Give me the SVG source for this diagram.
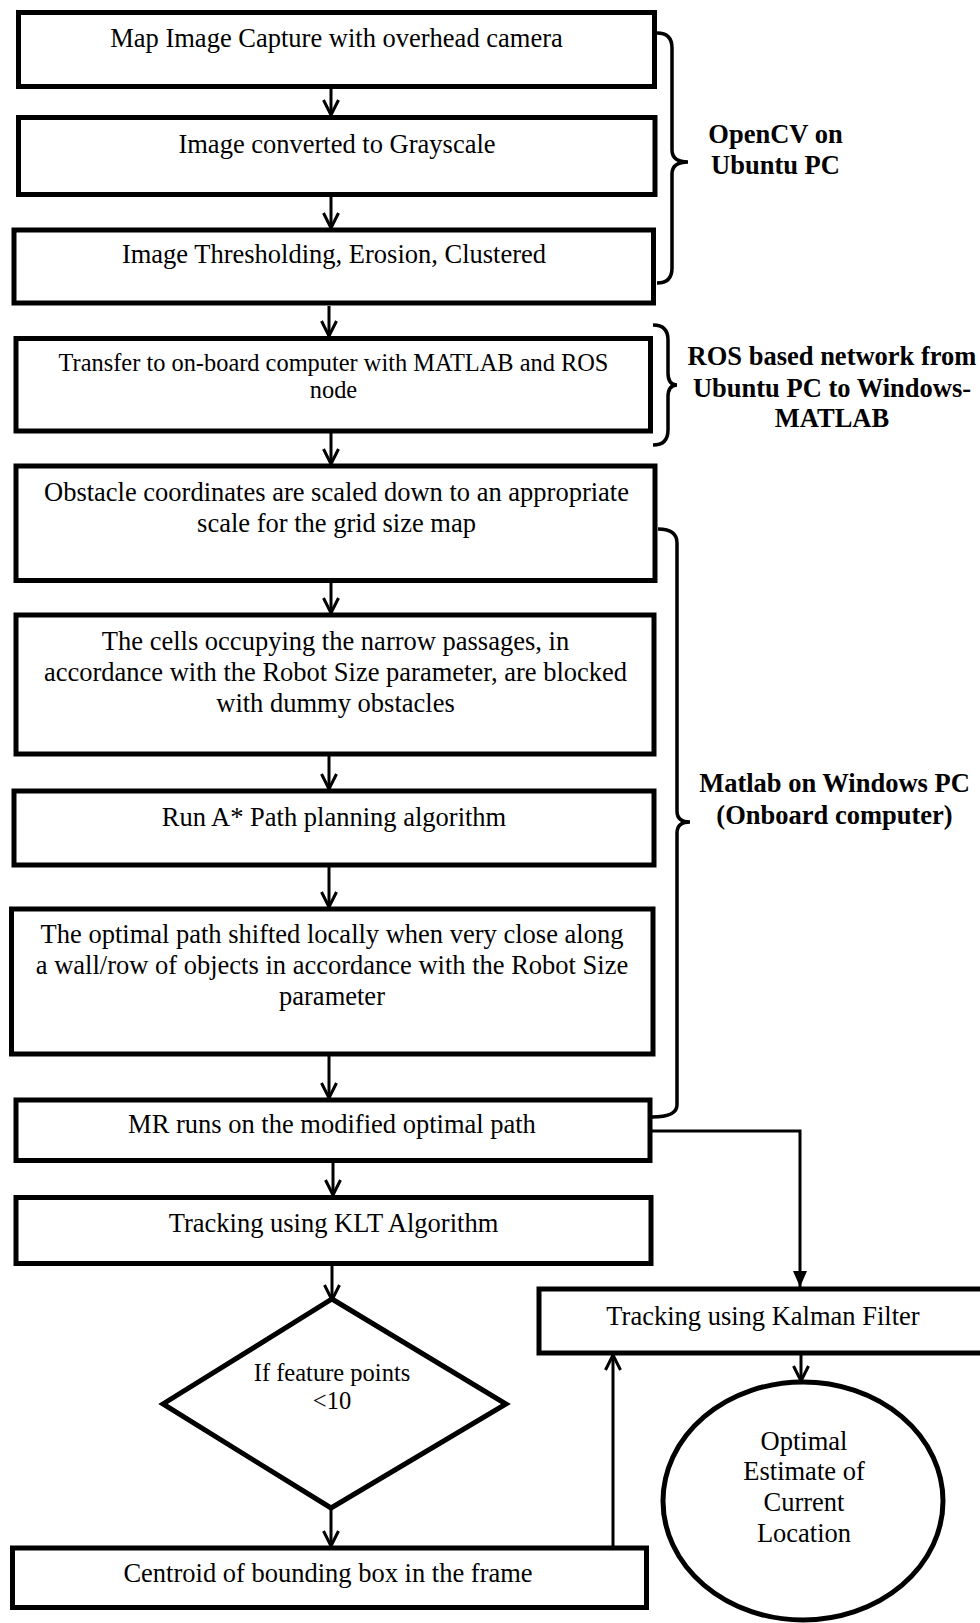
<svg xmlns="http://www.w3.org/2000/svg" width="980" height="1623" viewBox="0 0 980 1623">
<style>
.box{fill:#fff;stroke:#000;stroke-width:5}
.t{font-family:"Liberation Serif","Times New Roman",serif;font-size:26.5px;fill:#000;text-anchor:middle}
.s{font-size:24.4px}
.b{font-weight:bold}
.con{fill:none;stroke:#000;stroke-width:3}
.brace{fill:none;stroke:#000;stroke-width:3.5}
</style>
<defs>
<marker id="open" viewBox="0 0 20 20" refX="17" refY="10" markerWidth="20" markerHeight="20" markerUnits="userSpaceOnUse" orient="auto">
<path d="M2,2.5 L17,10 L2,17.5" fill="none" stroke="#000" stroke-width="3"/>
</marker>
<marker id="fill" viewBox="0 0 16 14" refX="16" refY="7" markerWidth="16" markerHeight="14" markerUnits="userSpaceOnUse" orient="auto">
<path d="M0,0 L16,7 L0,14 z" fill="#000"/>
</marker>
</defs>
<rect width="980" height="1623" fill="#fff"/>

<g id="connectors">
<line class="con" x1="331" y1="89" x2="331" y2="115" marker-end="url(#open)"/>
<line class="con" x1="331" y1="197" x2="331" y2="228" marker-end="url(#open)"/>
<line class="con" x1="329" y1="306" x2="329" y2="336" marker-end="url(#open)"/>
<line class="con" x1="331" y1="433" x2="331" y2="464" marker-end="url(#open)"/>
<line class="con" x1="331" y1="583" x2="331" y2="613" marker-end="url(#open)"/>
<line class="con" x1="329" y1="756" x2="329" y2="789" marker-end="url(#open)"/>
<line class="con" x1="329" y1="867" x2="329" y2="907" marker-end="url(#open)"/>
<line class="con" x1="329" y1="1056" x2="329" y2="1098" marker-end="url(#open)"/>
<line class="con" x1="333" y1="1163" x2="333" y2="1195" marker-end="url(#open)"/>
<line class="con" x1="332" y1="1266" x2="332" y2="1300" marker-end="url(#open)"/>
<line class="con" x1="331" y1="1508" x2="331" y2="1546" marker-end="url(#open)"/>
<polyline class="con" points="652,1131 800,1131 800,1287" marker-end="url(#fill)"/>
<line class="con" x1="613" y1="1546" x2="613" y2="1355" marker-end="url(#open)"/>
<line class="con" x1="801" y1="1355" x2="801" y2="1381" marker-end="url(#open)"/>
</g>

<g id="brace-opencv">
<path class="brace" d="M657,33 Q672,33 672,48 L672,150 Q672,162 688,162 Q672,162 672,174 L672,268 Q672,283 657,283"/>
<text class="t b" x="775.5" y="143">OpenCV on</text>
<text class="t b" x="775.5" y="174">Ubuntu PC</text>
</g>
<g id="brace-ros">
<path class="brace" d="M653,325 Q668,325 668,340 L668,373 Q668,385 677,385 Q668,385 668,397 L668,430 Q668,445 653,445"/>
<text class="t b" x="832" y="365">ROS based network from</text>
<text class="t b" x="832" y="397">Ubuntu PC to Windows-</text>
<text class="t b" x="832" y="427">MATLAB</text>
</g>
<g id="brace-matlab">
<path class="brace" d="M658,529 Q677,529 677,543 L677,811 Q677,822 690,822 Q677,822 677,833 L677,1105 Q677,1117 652,1117"/>
<text class="t b" x="834.5" y="792">Matlab on Windows PC</text>
<text class="t b" x="834.5" y="824">(Onboard computer)</text>
</g>

<g id="n1"><rect class="box" x="18.5" y="12.5" width="636" height="74"/>
<text class="t" x="336.5" y="47">Map Image Capture with overhead camera</text></g>
<g id="n2"><rect class="box" x="18.5" y="117.5" width="636.5" height="77"/>
<text class="t" x="337" y="153">Image converted to Grayscale</text></g>
<g id="n3"><rect class="box" x="14" y="230" width="639.5" height="73"/>
<text class="t" x="334" y="263">Image Thresholding, Erosion, Clustered</text></g>
<g id="n4"><rect class="box" x="16" y="338.5" width="634.5" height="92.5"/>
<text class="t s" x="333.5" y="370.5">Transfer to on-board computer with MATLAB and ROS</text>
<text class="t s" x="333.5" y="398">node</text></g>
<g id="n5"><rect class="box" x="16" y="466" width="639" height="114.5"/>
<text class="t" x="336.5" y="501">Obstacle coordinates are scaled down to an appropriate</text>
<text class="t" x="336.5" y="532">scale for the grid size map</text></g>
<g id="n6"><rect class="box" x="16" y="615" width="638" height="139"/>
<text class="t" x="335.5" y="650">The cells occupying the narrow passages, in</text>
<text class="t" x="335.5" y="680.5">accordance with the Robot Size parameter, are blocked</text>
<text class="t" x="335.5" y="711.5">with dummy obstacles</text></g>
<g id="n7"><rect class="box" x="14" y="791" width="640" height="74"/>
<text class="t" x="334" y="826">Run A* Path planning algorithm</text></g>
<g id="n8"><rect class="box" x="11.5" y="909" width="641.5" height="145"/>
<text class="t" x="332" y="943">The optimal path shifted locally when very close along</text>
<text class="t" x="332" y="973.5">a wall/row of objects in accordance with the Robot Size</text>
<text class="t" x="332" y="1005">parameter</text></g>
<g id="n9"><rect class="box" x="16" y="1100" width="634" height="60.5"/>
<text class="t" x="332" y="1133">MR runs on the modified optimal path</text></g>
<g id="n10"><rect class="box" x="16" y="1197.5" width="635" height="66"/>
<text class="t" x="333.5" y="1232">Tracking using KLT Algorithm</text></g>
<g id="n11"><polygon class="box" points="332,1299 506,1404 331,1508 163,1404"/>
<text class="t" x="332" y="1381" style="font-size:24.5px">If feature points</text>
<text class="t" x="332" y="1409" style="font-size:24.5px">&lt;10</text></g>
<g id="n12"><rect class="box" x="12.5" y="1548" width="634" height="59.5"/>
<text class="t" x="328" y="1582">Centroid of bounding box in the frame</text></g>
<g id="n13"><rect class="box" x="539" y="1289" width="450" height="64"/>
<text class="t" x="763" y="1325">Tracking using Kalman Filter</text></g>
<g id="n14"><ellipse class="box" cx="803" cy="1501" rx="140" ry="119"/>
<text class="t" x="804" y="1450">Optimal</text>
<text class="t" x="804" y="1480">Estimate of</text>
<text class="t" x="804" y="1511">Current</text>
<text class="t" x="804" y="1542">Location</text></g>
</svg>
